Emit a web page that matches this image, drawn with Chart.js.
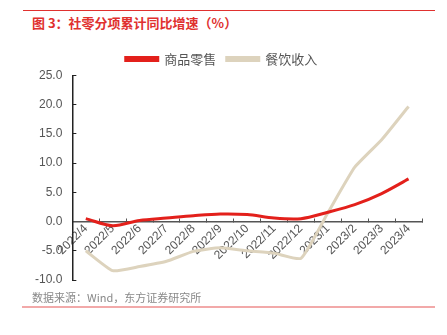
<!DOCTYPE html>
<html>
<head>
<meta charset="utf-8">
<script src="https://cdn.jsdelivr.net/npm/chart.js@4.4.0/dist/chart.umd.min.js"></script>
<style>
  body { margin: 0; width: 447px; height: 335px; background: #fff; position: relative; overflow: hidden;
         font-family: "Noto Sans CJK SC", "Noto Sans", sans-serif; }
  #topLine { position: absolute; left: 23px; top: 10px; width: 412px; height: 1px; background: #e0312f; }
  #title { position: absolute; left: 32px; top: 13px; font-size: 13px; font-weight: bold; color: #e0312f; }
  #source { position: absolute; left: 32px; top: 289px; font-size: 11px; color: #888; }
  #bottomLine { position: absolute; left: 22px; top: 306px; width: 413px; height: 2px; background: #f2a9a9; }
  #chart { position: absolute; left: 0; top: 0; }
</style>
</head>
<body>
<div id="topLine"></div>
<div id="title">图 3：社零分项累计同比增速（%）</div>
<canvas id="chart" width="447" height="335"></canvas>
<div id="source">数据来源：Wind，东方证券研究所</div>
<div id="bottomLine"></div>
<script>
// 数据
const months = ['2022/4', '2022/5', '2022/6', '2022/7', '2022/8', '2022/9', '2022/10',
                '2022/11', '2022/12', '2023/1', '2023/2', '2023/3', '2023/4'];
const goodsRetail = [0.5, -0.7, 0.2, 0.6, 1.0, 1.3, 1.2, 0.6, 0.5, 1.6, 2.9, 4.8, 7.3];
const catering = [-5.0, -8.4, -7.7, -6.8, -5.1, -4.5, -5.0, -5.4, -6.3, 1.5, 9.3, 14.0, 19.7];
const yTicks = [-10, -5, 0, 5, 10, 15, 20, 25];

const ctx = document.getElementById('chart').getContext('2d');
new Chart(ctx, {
    type: 'line',
    data: {
        labels: months,
        datasets: [{
            label: '商品零售',
            data: goodsRetail,
            borderColor: '#e3201b',
            backgroundColor: '#e3201b',
            borderWidth: 3,
            pointRadius: 0,
            tension: 0.3
        }, {
            label: '餐饮收入',
            data: catering,
            borderColor: '#ddd3bd',
            backgroundColor: '#ddd3bd',
            borderWidth: 3,
            pointRadius: 0,
            tension: 0.15
        }]
    },
    options: {
        responsive: false,
        animation: false,
        layout: { padding: { top: 42, left: 21, right: 25, bottom: 55 } },
        plugins: {
            legend: {
                position: 'top',
                labels: {
                    boxWidth: 32,
                    boxHeight: 3,
                    color: '#555',
                    font: { size: 13, family: '"Noto Sans CJK SC", sans-serif' },
                    padding: 10.5
                }
            },
            tooltip: { enabled: false }
        },
        scales: {
            x: {
                position: { y: 0 },
                offset: true,
                grid: { display: true, drawOnChartArea: false, offset: true, tickLength: -4, color: '#555' },
                border: { color: '#555', width: 1.5 },
                ticks: {
                    color: '#555',
                    autoSkip: false,
                    maxRotation: 45,
                    minRotation: 45,
                    font: { size: 12, family: 'Liberation Sans, sans-serif' },
                    padding: 4
                }
            },
            y: {
                min: -10,
                max: 25,
                afterBuildTicks: axis => { axis.ticks = yTicks.map(v => ({ value: v })); },
                grid: { display: true, drawOnChartArea: false, tickLength: -4, color: '#222' },
                border: { color: '#222', width: 1.5 },
                ticks: {
                    color: '#555',
                    font: { size: 12, family: 'Liberation Sans, sans-serif' },
                    padding: 14,
                    callback: v => v.toFixed(1)
                }
            }
        }
    }
});
</script>
</body>
</html>
